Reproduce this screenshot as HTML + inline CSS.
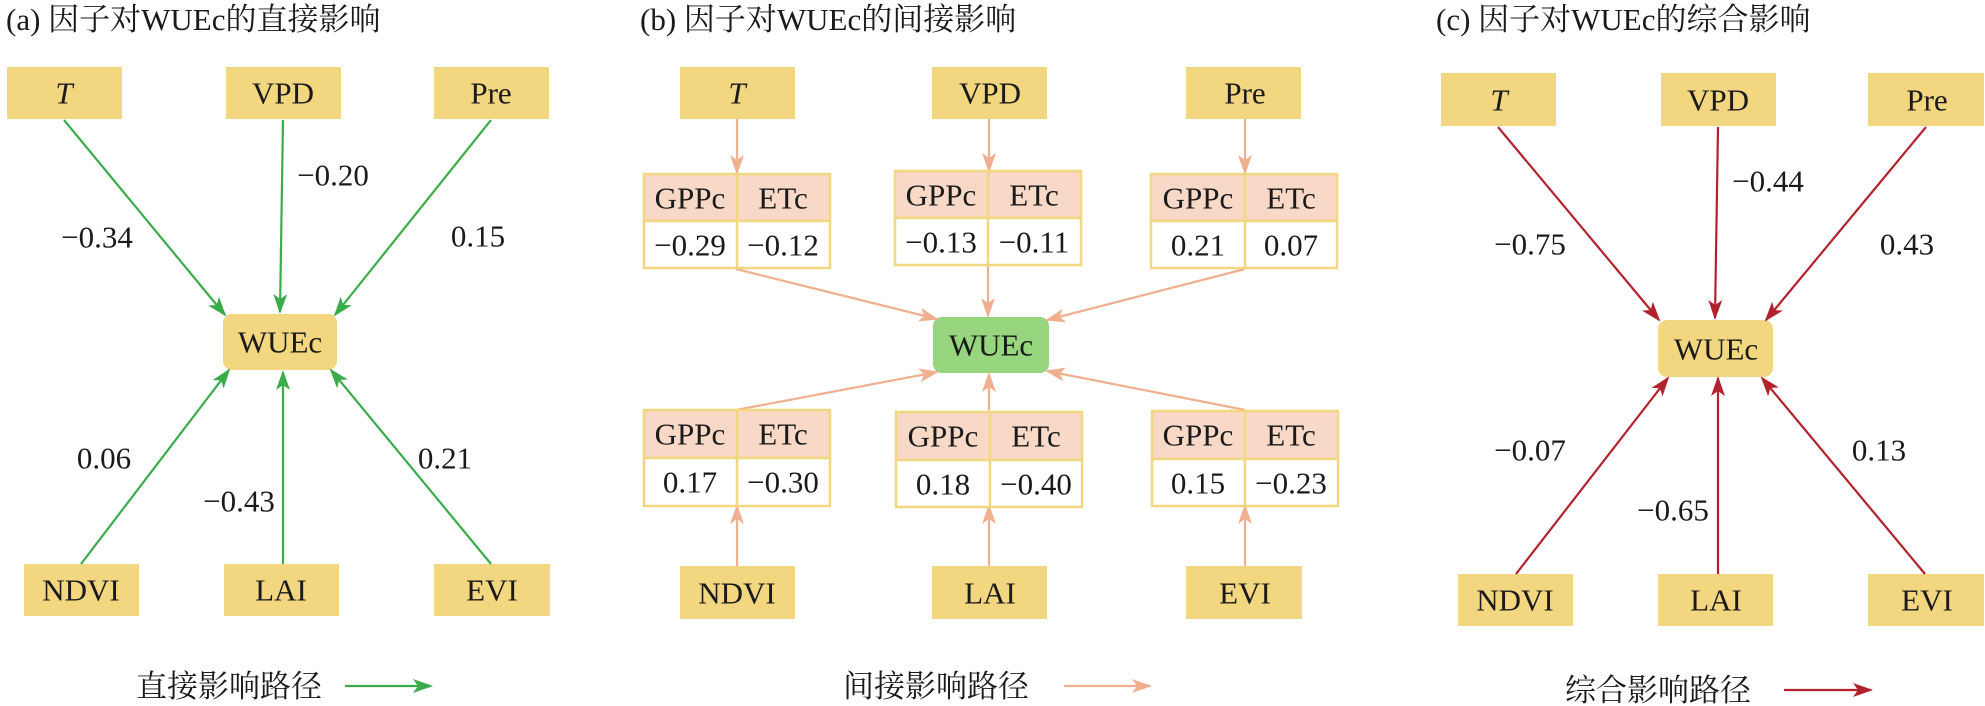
<!DOCTYPE html>
<html><head><meta charset="utf-8"><style>
html,body{margin:0;padding:0;background:#fff;}
svg{display:block;}
svg text{font-family:"Liberation Serif","Noto Serif CJK SC",serif;fill:#1a1a1a;}
.t{font-size:31px;}
.n{font-size:31px;text-anchor:middle;dominant-baseline:central;}
.l{font-size:31px;text-anchor:middle;dominant-baseline:central;}
.box{fill:#f2d680;}
</style></head><body>
<svg width="1985" height="706" viewBox="0 0 1985 706" xmlns="http://www.w3.org/2000/svg" font-family="Liberation Serif, Noto Serif CJK SC, serif">
<defs>
<marker id="mg" markerWidth="20" markerHeight="14" refX="18" refY="7" orient="auto" markerUnits="userSpaceOnUse"><path d="M0,0 L20,7 L0,14 L5,7 z" fill="#3aac4a"/></marker>
<marker id="ms" markerWidth="20" markerHeight="14" refX="18" refY="7" orient="auto" markerUnits="userSpaceOnUse"><path d="M0,0 L20,7 L0,14 L5,7 z" fill="#f0b090"/></marker>
<marker id="mr" markerWidth="20" markerHeight="14" refX="18" refY="7" orient="auto" markerUnits="userSpaceOnUse"><path d="M0,0 L20,7 L0,14 L5,7 z" fill="#b3222c"/></marker>
</defs>

<!-- Panel a -->
<text class="t" x="6" y="30">(a) 因子对WUEc的直接影响</text>
<rect class="box" x="7" y="67" width="115" height="52"/><text class="n" x="64" y="93" font-style="italic">T</text>
<rect class="box" x="226" y="67" width="115" height="52"/><text class="n" x="283" y="93">VPD</text>
<rect class="box" x="434" y="67" width="115" height="52"/><text class="n" x="491" y="93">Pre</text>
<rect class="box" x="223" y="314" width="114" height="56" rx="9"/><text class="n" x="280" y="342">WUEc</text>
<rect class="box" x="24" y="564" width="115" height="52"/><text class="n" x="81" y="590">NDVI</text>
<rect class="box" x="224" y="564" width="115" height="52"/><text class="n" x="281" y="590">LAI</text>
<rect class="box" x="434" y="564" width="116" height="52"/><text class="n" x="492" y="590">EVI</text>
<g stroke="#3aac4a" stroke-width="2.2" fill="none" marker-end="url(#mg)">
<line x1="64" y1="120" x2="225" y2="315"/>
<line x1="283" y1="120" x2="280" y2="312"/>
<line x1="491" y1="120" x2="335" y2="315"/>
<line x1="81" y1="564" x2="229" y2="370"/>
<line x1="283" y1="564" x2="283" y2="372"/>
<line x1="491" y1="564" x2="331" y2="370"/>
</g>
<text class="l" x="97" y="237">−0.34</text>
<text class="l" x="333" y="175">−0.20</text>
<text class="l" x="478" y="236">0.15</text>
<text class="l" x="104" y="458">0.06</text>
<text class="l" x="239" y="501">−0.43</text>
<text class="l" x="445" y="458">0.21</text>
<text class="t" x="136" y="697">直接影响路径</text>
<line x1="345" y1="686" x2="431" y2="686" stroke="#3aac4a" stroke-width="2.2" marker-end="url(#mg)"/>

<!-- Panel b -->
<text class="t" x="640" y="30">(b) 因子对WUEc的间接影响</text>
<rect class="box" x="680" y="67" width="115" height="52"/><text class="n" x="737" y="93" font-style="italic">T</text>
<rect class="box" x="932" y="67" width="115" height="52"/><text class="n" x="990" y="93">VPD</text>
<rect class="box" x="1186" y="67" width="115" height="52"/><text class="n" x="1245" y="93">Pre</text>
<rect x="933" y="317" width="116" height="56" rx="9" fill="#97d57e"/><text class="n" x="991" y="345">WUEc</text>
<rect class="box" x="680" y="566" width="115" height="53"/><text class="n" x="737" y="593">NDVI</text>
<rect class="box" x="932" y="566" width="115" height="53"/><text class="n" x="990" y="593">LAI</text>
<rect class="box" x="1186" y="566" width="116" height="53"/><text class="n" x="1245" y="593">EVI</text>

<g stroke="#f0b090" stroke-width="2.2" fill="none" marker-end="url(#ms)">
<line x1="737" y1="119" x2="737" y2="173"/>
<line x1="989" y1="119" x2="989" y2="171"/>
<line x1="1245" y1="119" x2="1245" y2="173"/>
<line x1="736" y1="269" x2="937" y2="319"/>
<line x1="988" y1="266" x2="988" y2="316"/>
<line x1="1245" y1="269" x2="1047" y2="320"/>
<line x1="736" y1="410" x2="937" y2="372"/>
<line x1="989" y1="410" x2="989" y2="374"/>
<line x1="1245" y1="410" x2="1047" y2="371"/>
<line x1="737" y1="566" x2="737" y2="506"/>
<line x1="989" y1="566" x2="989" y2="506"/>
<line x1="1245" y1="566" x2="1245" y2="506"/>
</g>

<g stroke="#f2d680" stroke-width="2.5">
<rect x="644" y="174" width="186" height="47" fill="#f8d9c8"/><rect x="644" y="221" width="186" height="47" fill="#fff"/><line x1="737" y1="174" x2="737" y2="268"/>
<rect x="895" y="171" width="186" height="47" fill="#f8d9c8"/><rect x="895" y="218" width="186" height="47" fill="#fff"/><line x1="988" y1="171" x2="988" y2="265"/>
<rect x="1151" y="174" width="186" height="47" fill="#f8d9c8"/><rect x="1151" y="221" width="186" height="47" fill="#fff"/><line x1="1245" y1="174" x2="1245" y2="268"/>
<rect x="644" y="410" width="186" height="48" fill="#f8d9c8"/><rect x="644" y="458" width="186" height="48" fill="#fff"/><line x1="737" y1="410" x2="737" y2="506"/>
<rect x="896" y="412" width="186" height="48" fill="#f8d9c8"/><rect x="896" y="460" width="186" height="47" fill="#fff"/><line x1="990" y1="412" x2="990" y2="507"/>
<rect x="1152" y="411" width="186" height="48" fill="#f8d9c8"/><rect x="1152" y="459" width="186" height="47" fill="#fff"/><line x1="1245" y1="411" x2="1245" y2="506"/>
</g>
<g>
<text class="n" x="690" y="198">GPPc</text><text class="n" x="783" y="198">ETc</text>
<text class="n" x="690" y="245">−0.29</text><text class="n" x="783" y="245">−0.12</text>
<text class="n" x="941" y="195">GPPc</text><text class="n" x="1034" y="195">ETc</text>
<text class="n" x="941" y="242">−0.13</text><text class="n" x="1034" y="242">−0.11</text>
<text class="n" x="1198" y="198">GPPc</text><text class="n" x="1291" y="198">ETc</text>
<text class="n" x="1198" y="245">0.21</text><text class="n" x="1291" y="245">0.07</text>
<text class="n" x="690" y="434">GPPc</text><text class="n" x="783" y="434">ETc</text>
<text class="n" x="690" y="482">0.17</text><text class="n" x="783" y="482">−0.30</text>
<text class="n" x="943" y="436">GPPc</text><text class="n" x="1036" y="436">ETc</text>
<text class="n" x="943" y="484">0.18</text><text class="n" x="1036" y="484">−0.40</text>
<text class="n" x="1198" y="435">GPPc</text><text class="n" x="1291" y="435">ETc</text>
<text class="n" x="1198" y="483">0.15</text><text class="n" x="1291" y="483">−0.23</text>
</g>
<text class="t" x="843" y="697">间接影响路径</text>
<line x1="1064" y1="686" x2="1150" y2="686" stroke="#f0b090" stroke-width="2.2" marker-end="url(#ms)"/>

<!-- Panel c -->
<text class="t" x="1436" y="30">(c) 因子对WUEc的综合影响</text>
<rect class="box" x="1441" y="73" width="115" height="53"/><text class="n" x="1499" y="100" font-style="italic">T</text>
<rect class="box" x="1661" y="73" width="115" height="53"/><text class="n" x="1718" y="100">VPD</text>
<rect class="box" x="1868" y="73" width="116" height="53"/><text class="n" x="1927" y="100">Pre</text>
<rect class="box" x="1658" y="320" width="115" height="57" rx="9"/><text class="n" x="1716" y="349">WUEc</text>
<rect class="box" x="1458" y="574" width="115" height="52"/><text class="n" x="1515" y="600">NDVI</text>
<rect class="box" x="1658" y="574" width="115" height="52"/><text class="n" x="1716" y="600">LAI</text>
<rect class="box" x="1868" y="574" width="116" height="52"/><text class="n" x="1927" y="600">EVI</text>
<g stroke="#b3222c" stroke-width="2.2" fill="none" marker-end="url(#mr)">
<line x1="1498" y1="127" x2="1659" y2="320"/>
<line x1="1718" y1="127" x2="1715" y2="318"/>
<line x1="1926" y1="127" x2="1766" y2="320"/>
<line x1="1516" y1="574" x2="1668" y2="378"/>
<line x1="1718" y1="574" x2="1718" y2="378"/>
<line x1="1925" y1="574" x2="1762" y2="378"/>
</g>
<text class="l" x="1530" y="244">−0.75</text>
<text class="l" x="1768" y="181">−0.44</text>
<text class="l" x="1907" y="244">0.43</text>
<text class="l" x="1530" y="450">−0.07</text>
<text class="l" x="1673" y="510">−0.65</text>
<text class="l" x="1879" y="450">0.13</text>
<text class="t" x="1565" y="701">综合影响路径</text>
<line x1="1784" y1="690" x2="1871" y2="690" stroke="#b3222c" stroke-width="2.2" marker-end="url(#mr)"/>
</svg>
</body></html>
